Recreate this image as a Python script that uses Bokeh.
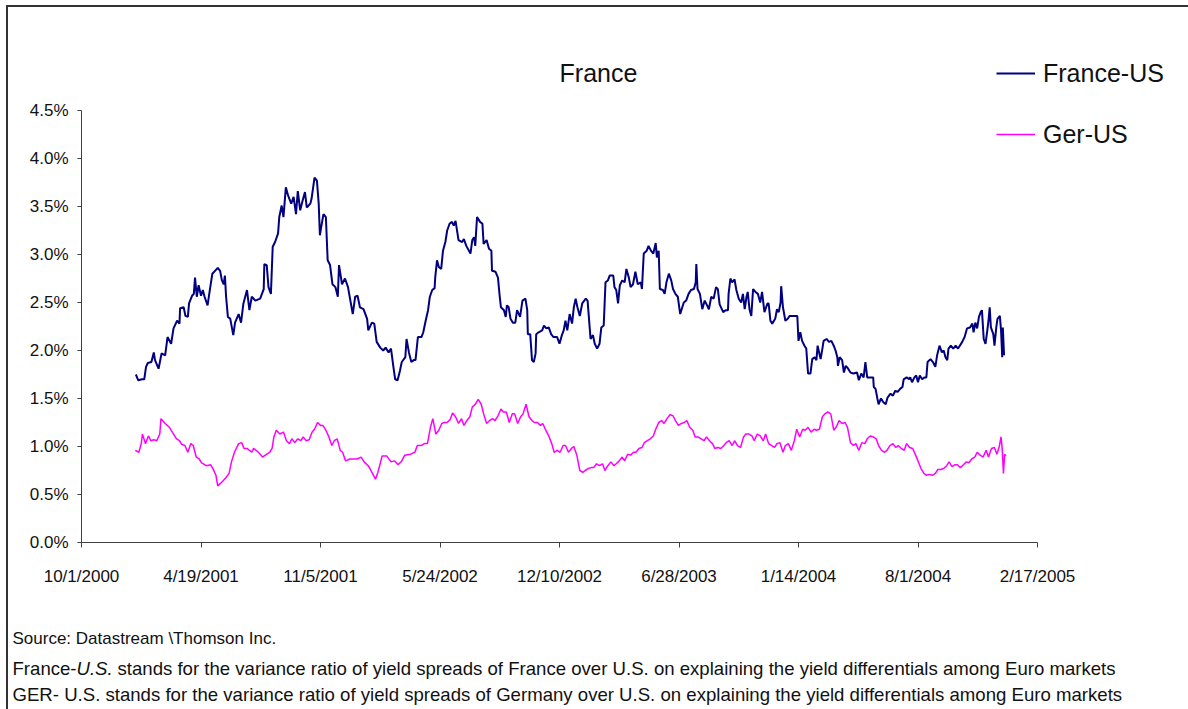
import pandas as pd
from bokeh.plotting import figure
from bokeh.models import (Range1d, FixedTicker, PrintfTickFormatter, CustomJSTickFormatter,
                          Label, Legend, LegendItem, ColumnDataSource)
from bokeh.embed import file_html
from bokeh.resources import INLINE

# ---------------- data ----------------
BASE_DATE = "2000-10-01"   # day 0 of the day counts below

# (days since BASE_DATE, value in %)
france_us = [
    (91, 1.75), (95, 1.69), (101, 1.70), (105, 1.70), (108, 1.83), (111, 1.87), (117, 1.88),
    (121, 1.98), (123, 1.90), (129, 1.81), (134, 1.97), (140, 1.95), (144, 2.14), (150, 2.07),
    (154, 2.23), (160, 2.31), (164, 2.28), (165, 2.44), (171, 2.45), (174, 2.36), (178, 2.35),
    (180, 2.49), (185, 2.57), (188, 2.59), (190, 2.76), (193, 2.56), (196, 2.68), (200, 2.57),
    (203, 2.63), (206, 2.56), (211, 2.47), (215, 2.64), (219, 2.80), (225, 2.84), (228, 2.86),
    (232, 2.83), (235, 2.73), (238, 2.69), (240, 2.78), (242, 2.56), (245, 2.35), (249, 2.33),
    (254, 2.16), (257, 2.29), (263, 2.38), (267, 2.29), (271, 2.49), (277, 2.63), (281, 2.42),
    (285, 2.56), (291, 2.52), (299, 2.54), (305, 2.64), (306, 2.90), (310, 2.89), (313, 2.66),
    (317, 2.59), (320, 3.08), (324, 3.13), (329, 3.22), (331, 3.39), (335, 3.51), (338, 3.39),
    (342, 3.70), (346, 3.61), (351, 3.53), (355, 3.60), (359, 3.42), (362, 3.66), (366, 3.46),
    (370, 3.56), (374, 3.65), (377, 3.49), (383, 3.53), (385, 3.58), (390, 3.80), (394, 3.77),
    (397, 3.53), (399, 3.20), (401, 3.28), (405, 3.42), (409, 3.39), (412, 2.94), (416, 2.89),
    (420, 2.69), (425, 2.66), (429, 2.56), (431, 2.89), (436, 2.69), (441, 2.75), (446, 2.66),
    (450, 2.52), (454, 2.38), (458, 2.56), (462, 2.57), (466, 2.45), (472, 2.43), (478, 2.33),
    (480, 2.21), (486, 2.29), (490, 2.28), (494, 2.09), (500, 2.03), (505, 2.00), (509, 2.03),
    (514, 1.98), (518, 2.02), (522, 1.83), (525, 1.70), (529, 1.69), (533, 1.79), (536, 1.88),
    (542, 1.93), (544, 2.12), (548, 1.98), (552, 1.88), (556, 1.90), (559, 1.90), (563, 2.14),
    (569, 2.14), (572, 2.19), (576, 2.31), (580, 2.42), (583, 2.56), (587, 2.63), (591, 2.65),
    (592, 2.76), (595, 2.94), (598, 2.87), (602, 2.85), (605, 3.04), (609, 3.13), (612, 3.25),
    (616, 3.32), (620, 3.34), (623, 3.30), (626, 3.35), (629, 3.23), (631, 3.15), (637, 3.13),
    (640, 3.16), (644, 3.09), (651, 3.01), (654, 3.15), (657, 3.18), (659, 3.09), (662, 3.39),
    (667, 3.34), (671, 3.32), (673, 3.11), (678, 3.15), (682, 3.06), (686, 3.04), (687, 2.83),
    (693, 2.82), (697, 2.76), (700, 2.56), (702, 2.45), (707, 2.42), (710, 2.35), (712, 2.47),
    (715, 2.45), (718, 2.33), (722, 2.29), (726, 2.29), (729, 2.42), (734, 2.35), (738, 2.52),
    (743, 2.54), (746, 2.42), (747, 2.17), (751, 2.17), (754, 1.90), (757, 1.88), (760, 1.97),
    (761, 2.17), (765, 2.19), (771, 2.21), (774, 2.26), (778, 2.23), (782, 2.24), (786, 2.17),
    (790, 2.14), (796, 2.14), (800, 2.07), (804, 2.16), (807, 2.21), (810, 2.31), (813, 2.21),
    (817, 2.38), (821, 2.28), (824, 2.45), (827, 2.54), (830, 2.45), (834, 2.36), (838, 2.49),
    (844, 2.54), (847, 2.52), (849, 2.36), (852, 2.12), (856, 2.16), (859, 2.07), (863, 2.02),
    (867, 2.07), (870, 2.24), (874, 2.26), (877, 2.71), (881, 2.73), (884, 2.78), (890, 2.78),
    (892, 2.66), (895, 2.63), (898, 2.49), (901, 2.68), (905, 2.73), (909, 2.71), (912, 2.85),
    (916, 2.76), (919, 2.66), (923, 2.69), (927, 2.82), (931, 2.69), (936, 2.71), (938, 2.64),
    (941, 3.01), (946, 3.04), (949, 3.09), (953, 3.04), (957, 3.01), (961, 3.12), (963, 2.97),
    (966, 3.04), (968, 2.64), (973, 2.63), (976, 2.59), (979, 2.71), (983, 2.80), (987, 2.73),
    (990, 2.64), (994, 2.59), (998, 2.56), (1002, 2.38), (1008, 2.50), (1012, 2.52), (1016, 2.59),
    (1020, 2.63), (1025, 2.64), (1028, 2.71), (1029, 2.90), (1031, 2.64), (1035, 2.59), (1039, 2.43),
    (1043, 2.52), (1047, 2.47), (1050, 2.43), (1054, 2.56), (1058, 2.54), (1062, 2.66), (1065, 2.64),
    (1068, 2.48), (1074, 2.40), (1078, 2.42), (1082, 2.42), (1083, 2.59), (1086, 2.75), (1089, 2.71),
    (1093, 2.74), (1096, 2.63), (1100, 2.54), (1104, 2.50), (1107, 2.59), (1110, 2.43), (1113, 2.56),
    (1115, 2.61), (1118, 2.43), (1121, 2.36), (1124, 2.64), (1128, 2.61), (1132, 2.59), (1136, 2.50),
    (1139, 2.61), (1143, 2.40), (1148, 2.49), (1150, 2.49), (1153, 2.31), (1156, 2.28), (1161, 2.33),
    (1164, 2.43), (1167, 2.40), (1170, 2.50), (1171, 2.67), (1174, 2.45), (1178, 2.31), (1182, 2.33),
    (1185, 2.36), (1189, 2.36), (1195, 2.36), (1198, 2.36), (1200, 2.10), (1203, 2.19), (1206, 2.10),
    (1210, 2.05), (1213, 2.02), (1216, 1.76), (1220, 1.76), (1223, 1.91), (1227, 1.93), (1230, 1.90),
    (1232, 2.05), (1237, 1.91), (1240, 2.02), (1242, 2.10), (1247, 2.12), (1251, 2.09), (1255, 2.10),
    (1259, 2.05), (1262, 2.00), (1265, 1.93), (1266, 1.84), (1269, 1.93), (1273, 1.90), (1276, 1.77),
    (1279, 1.84), (1282, 1.82), (1287, 1.77), (1292, 1.76), (1298, 1.77), (1301, 1.69), (1305, 1.76),
    (1309, 1.72), (1312, 1.88), (1315, 1.72), (1319, 1.72), (1325, 1.72), (1326, 1.62), (1329, 1.60),
    (1332, 1.50), (1334, 1.44), (1338, 1.50), (1342, 1.46), (1346, 1.44), (1349, 1.51), (1354, 1.55),
    (1358, 1.53), (1362, 1.58), (1366, 1.57), (1370, 1.60), (1374, 1.62), (1376, 1.70), (1381, 1.72),
    (1385, 1.70), (1387, 1.72), (1390, 1.67), (1394, 1.72), (1397, 1.74), (1400, 1.67), (1403, 1.74),
    (1407, 1.70), (1411, 1.72), (1414, 1.72), (1416, 1.88), (1421, 1.91), (1425, 1.88), (1429, 1.83),
    (1432, 1.95), (1436, 2.05), (1440, 1.98), (1443, 2.00), (1446, 1.93), (1449, 1.90), (1451, 2.02),
    (1455, 2.05), (1459, 2.02), (1463, 2.05), (1467, 2.02), (1470, 2.05), (1474, 2.09), (1478, 2.14),
    (1482, 2.23), (1487, 2.24), (1491, 2.28), (1493, 2.19), (1496, 2.29), (1499, 2.23), (1502, 2.35),
    (1505, 2.40), (1507, 2.42), (1510, 2.12), (1513, 2.07), (1516, 2.21), (1518, 2.31), (1520, 2.45),
    (1522, 2.24), (1526, 2.17), (1528, 2.05), (1531, 2.24), (1533, 2.33), (1537, 2.36), (1539, 2.21),
    (1541, 1.93), (1542, 2.24), (1544, 1.95),
]

ger_us = [
    (90, 0.96), (96, 0.94), (100, 1.03), (102, 1.13), (107, 1.03), (112, 1.11), (116, 1.06),
    (121, 1.07), (126, 1.06), (131, 1.13), (133, 1.29), (140, 1.24), (147, 1.20), (152, 1.15),
    (159, 1.08), (164, 1.06), (168, 1.02), (173, 1.01), (178, 0.94), (183, 1.03), (187, 1.01),
    (192, 0.89), (197, 0.87), (201, 0.83), (209, 0.80), (216, 0.81), (220, 0.77), (225, 0.70),
    (228, 0.59), (235, 0.63), (241, 0.67), (247, 0.72), (251, 0.84), (256, 0.94), (263, 1.03),
    (268, 1.04), (272, 0.98), (277, 0.98), (285, 0.94), (288, 0.98), (296, 0.94), (303, 0.89),
    (310, 0.92), (315, 0.94), (319, 0.98), (322, 1.10), (326, 1.17), (332, 1.13), (338, 1.15),
    (343, 1.06), (348, 1.03), (352, 1.08), (357, 1.04), (362, 1.08), (367, 1.06), (371, 1.10),
    (376, 1.06), (381, 1.07), (386, 1.15), (390, 1.18), (395, 1.25), (400, 1.22), (404, 1.22),
    (409, 1.17), (414, 1.10), (419, 1.01), (423, 1.06), (428, 1.08), (433, 0.96), (437, 0.94),
    (442, 0.85), (449, 0.87), (454, 0.87), (461, 0.87), (468, 0.89), (473, 0.84), (480, 0.80),
    (487, 0.72), (492, 0.66), (496, 0.73), (499, 0.80), (503, 0.90), (511, 0.90), (518, 0.84),
    (524, 0.85), (530, 0.81), (536, 0.85), (541, 0.91), (551, 0.92), (558, 0.94), (562, 1.01),
    (568, 1.01), (574, 1.03), (579, 1.03), (584, 1.20), (588, 1.29), (593, 1.13), (598, 1.17),
    (603, 1.24), (607, 1.25), (612, 1.25), (617, 1.28), (621, 1.35), (626, 1.31), (631, 1.24),
    (636, 1.29), (640, 1.22), (645, 1.27), (650, 1.31), (654, 1.41), (659, 1.44), (664, 1.49),
    (669, 1.44), (673, 1.34), (678, 1.24), (683, 1.27), (688, 1.29), (692, 1.27), (697, 1.32),
    (702, 1.39), (706, 1.36), (711, 1.36), (716, 1.25), (721, 1.34), (725, 1.34), (730, 1.24),
    (735, 1.31), (739, 1.34), (744, 1.44), (749, 1.31), (754, 1.27), (758, 1.25), (763, 1.25),
    (768, 1.22), (772, 1.24), (777, 1.17), (782, 1.11), (787, 1.03), (791, 0.94), (796, 0.96),
    (801, 0.94), (806, 1.01), (810, 1.01), (815, 0.94), (820, 0.98), (824, 1.00), (829, 0.91),
    (834, 0.75), (839, 0.73), (843, 0.75), (848, 0.77), (853, 0.78), (857, 0.78), (862, 0.82),
    (867, 0.80), (872, 0.82), (876, 0.75), (881, 0.80), (886, 0.84), (891, 0.80), (895, 0.82),
    (900, 0.85), (905, 0.89), (909, 0.85), (914, 0.92), (919, 0.91), (924, 0.94), (928, 0.94),
    (933, 0.98), (938, 0.99), (942, 1.04), (947, 1.06), (952, 1.08), (957, 1.11), (961, 1.18),
    (966, 1.25), (971, 1.27), (975, 1.24), (980, 1.29), (985, 1.33), (990, 1.32), (994, 1.27),
    (999, 1.22), (1004, 1.24), (1009, 1.25), (1013, 1.27), (1018, 1.20), (1023, 1.17), (1027, 1.10),
    (1032, 1.10), (1037, 1.08), (1042, 1.06), (1046, 1.10), (1051, 1.06), (1056, 1.03), (1060, 0.98),
    (1065, 0.99), (1070, 0.98), (1075, 1.01), (1079, 1.04), (1084, 1.06), (1089, 1.01), (1093, 1.06),
    (1098, 1.01), (1103, 0.99), (1108, 1.10), (1112, 1.13), (1117, 1.13), (1122, 1.11), (1126, 1.06),
    (1131, 1.13), (1136, 1.11), (1141, 1.06), (1145, 1.13), (1150, 1.03), (1155, 1.01), (1160, 0.99),
    (1164, 1.03), (1169, 1.04), (1174, 0.94), (1178, 1.01), (1183, 1.03), (1188, 0.96), (1193, 1.06),
    (1197, 1.18), (1202, 1.10), (1207, 1.18), (1211, 1.17), (1216, 1.20), (1221, 1.15), (1226, 1.18),
    (1230, 1.17), (1235, 1.18), (1240, 1.31), (1244, 1.34), (1249, 1.36), (1254, 1.34), (1259, 1.17),
    (1263, 1.20), (1268, 1.27), (1273, 1.24), (1278, 1.25), (1282, 1.20), (1287, 1.04), (1292, 1.01),
    (1296, 1.03), (1301, 0.96), (1306, 1.04), (1311, 1.03), (1315, 1.08), (1320, 1.11), (1325, 1.10),
    (1330, 1.08), (1334, 1.01), (1339, 0.96), (1344, 0.94), (1348, 0.96), (1353, 1.01), (1358, 1.03),
    (1363, 0.99), (1367, 1.01), (1372, 0.98), (1377, 0.96), (1381, 1.03), (1386, 0.99), (1391, 0.98),
    (1396, 0.91), (1400, 0.85), (1405, 0.77), (1410, 0.72), (1414, 0.70), (1419, 0.71), (1424, 0.70),
    (1429, 0.72), (1433, 0.76), (1438, 0.76), (1443, 0.77), (1448, 0.80), (1452, 0.84), (1457, 0.79),
    (1462, 0.81), (1466, 0.81), (1471, 0.78), (1476, 0.81), (1481, 0.84), (1485, 0.83), (1490, 0.87),
    (1495, 0.89), (1499, 0.94), (1504, 0.91), (1509, 0.89), (1514, 0.96), (1518, 0.89), (1523, 0.98),
    (1528, 0.99), (1532, 0.92), (1536, 1.00), (1539, 1.10), (1541, 0.97), (1543, 0.72), (1545, 0.92),
    (1547, 0.90),
]

series_names = ["France-US", "Ger-US"]
series_colors = ["#000080", "#FF00FF"]
x_tick_labels = ["10/1/2000", "4/19/2001", "11/5/2001", "5/24/2002", "12/10/2002",
                 "6/28/2003", "1/14/2004", "8/1/2004", "2/17/2005"]
y_ticks = [0.0, 0.5, 1.0, 1.5, 2.0, 2.5, 3.0, 3.5, 4.0, 4.5]
title_text = "France"
note_source = "Source: Datastream \\Thomson Inc."
note_fr = ["France-", "U.S.",
           "stands for the variance ratio of yield spreads of France over U.S. on explaining the yield differentials among Euro markets"]
note_ger = "GER- U.S. stands for the variance ratio of yield spreads of Germany over U.S. on explaining the yield differentials among Euro markets"

# ---------------- layout (page pixels) ----------------
FONT = "Liberation Sans"
MARGIN_L, MARGIN_T, BORDER = 6, 5, 2
ORIGIN_X, ORIGIN_Y = MARGIN_L + BORDER, MARGIN_T + BORDER   # canvas origin on the page
CANVAS_W, CANVAS_H = 1188 - ORIGIN_X, 709 - ORIGIN_Y
AXIS_LEFT, AXIS_RIGHT = 81, 1037       # page x of first / last date tick
AXIS_TOP, AXIS_BOTTOM = 110, 542       # page y of top / bottom value tick


def sx(page_x):
    return page_x - ORIGIN_X


def sy(page_y):
    return (ORIGIN_Y + CANVAS_H) - page_y


base = pd.Timestamp(BASE_DATE)


def to_source(pairs):
    days = [d for d, _ in pairs]
    vals = [v for _, v in pairs]
    return ColumnDataSource(dict(x=base + pd.to_timedelta(days, unit="D"), y=vals))


tick_ms = [pd.Timestamp(pd.to_datetime(s, format="%m/%d/%Y")).value / 1e6 for s in x_tick_labels]
px_per_ms = (AXIS_RIGHT - AXIS_LEFT) / (tick_ms[-1] - tick_ms[0])
x_start = tick_ms[0] - (AXIS_LEFT - ORIGIN_X) / px_per_ms
x_end = x_start + CANVAS_W / px_per_ms
px_per_unit = (AXIS_BOTTOM - AXIS_TOP) / (y_ticks[-1] - y_ticks[0])
y_end = y_ticks[-1] + (AXIS_TOP - ORIGIN_Y) / px_per_unit
y_start = y_end - CANVAS_H / px_per_unit

p = figure(x_axis_type="datetime",
           x_range=Range1d(start=x_start, end=x_end),
           y_range=Range1d(start=y_start, end=y_end),
           frame_width=CANVAS_W, frame_height=CANVAS_H,
           min_border=0, min_border_left=0, min_border_right=0,
           min_border_top=0, min_border_bottom=0,
           output_backend="svg", toolbar_location=None,
           background_fill_color="white", border_fill_color="white",
           outline_line_color=None)
p.styles = {"border-left": f"{BORDER}px solid #333333", "border-top": f"{BORDER}px solid #333333",
            "margin-left": f"{MARGIN_L}px", "margin-top": f"{MARGIN_T}px"}
p.xgrid.visible = False
p.ygrid.visible = False

AX = "#404040"
for ax in (p.xaxis[0], p.yaxis[0]):
    ax.axis_line_color = AX
    ax.axis_line_width = 1
    ax.major_tick_line_color = AX
    ax.major_tick_in = 0
    ax.minor_tick_in = 0
    ax.minor_tick_out = 0
    ax.major_label_text_font = FONT
    ax.major_label_text_font_size = "17px"
    ax.major_label_text_color = "#111111"

p.yaxis.ticker = FixedTicker(ticks=y_ticks)
p.yaxis.formatter = PrintfTickFormatter(format="%.1f%%")
p.yaxis.major_tick_out = 4
p.yaxis.major_label_standoff = 9
p.yaxis.fixed_location = tick_ms[0]
p.yaxis.bounds = (y_ticks[0], y_ticks[-1])

p.xaxis.ticker = FixedTicker(ticks=tick_ms)
p.xaxis.formatter = CustomJSTickFormatter(code="""
const d = new Date(tick);
return (d.getUTCMonth() + 1) + "/" + d.getUTCDate() + "/" + d.getUTCFullYear();
""")
p.xaxis.major_tick_out = 5
p.xaxis.major_label_standoff = 19
p.xaxis.fixed_location = y_ticks[0]
p.xaxis.bounds = (tick_ms[0], tick_ms[-1])

r_fr = p.line("x", "y", source=to_source(france_us), line_color=series_colors[0], line_width=2)
r_ger = p.line("x", "y", source=to_source(ger_us), line_color=series_colors[1], line_width=1.5)

ROW_H = 30
for name, rend, row_y in ((series_names[0], r_fr, 73), (series_names[1], r_ger, 134)):
    leg = Legend(items=[LegendItem(label=name, renderers=[rend])],
                 location=(sx(996), sy(row_y + ROW_H / 2)),
                 orientation="vertical", padding=0, margin=0, spacing=0,
                 glyph_width=39, glyph_height=ROW_H, label_height=ROW_H, label_standoff=8,
                 label_text_font=FONT, label_text_font_size="25px", label_text_color="#111111",
                 border_line_color=None, background_fill_alpha=0)
    p.add_layout(leg)

p.add_layout(Label(x=sx(598), y=sy(86), x_units="screen", y_units="screen", text=title_text,
                   text_align="center", text_baseline="bottom",
                   text_font=FONT, text_font_size="25px", text_color="#111111"))

p.add_layout(Label(x=sx(12), y=sy(647), x_units="screen", y_units="screen", text=note_source,
                   text_baseline="bottom",
                   text_font=FONT, text_font_size="17px", text_color="#111111"))
NOTE_SIZE = "18.6px"
for px_, txt, style in ((12, note_fr[0], "normal"), (76, note_fr[1], "italic"), (117, note_fr[2], "normal")):
    p.add_layout(Label(x=sx(px_), y=sy(678), x_units="screen", y_units="screen", text=txt,
                       text_baseline="bottom",
                       text_font=FONT, text_font_size=NOTE_SIZE, text_font_style=style,
                       text_color="#111111"))
p.add_layout(Label(x=sx(12), y=sy(704), x_units="screen", y_units="screen", text=note_ger,
                   text_baseline="bottom",
                   text_font=FONT, text_font_size=NOTE_SIZE, text_color="#111111"))

open("out.html", "w").write(file_html(p, INLINE))
